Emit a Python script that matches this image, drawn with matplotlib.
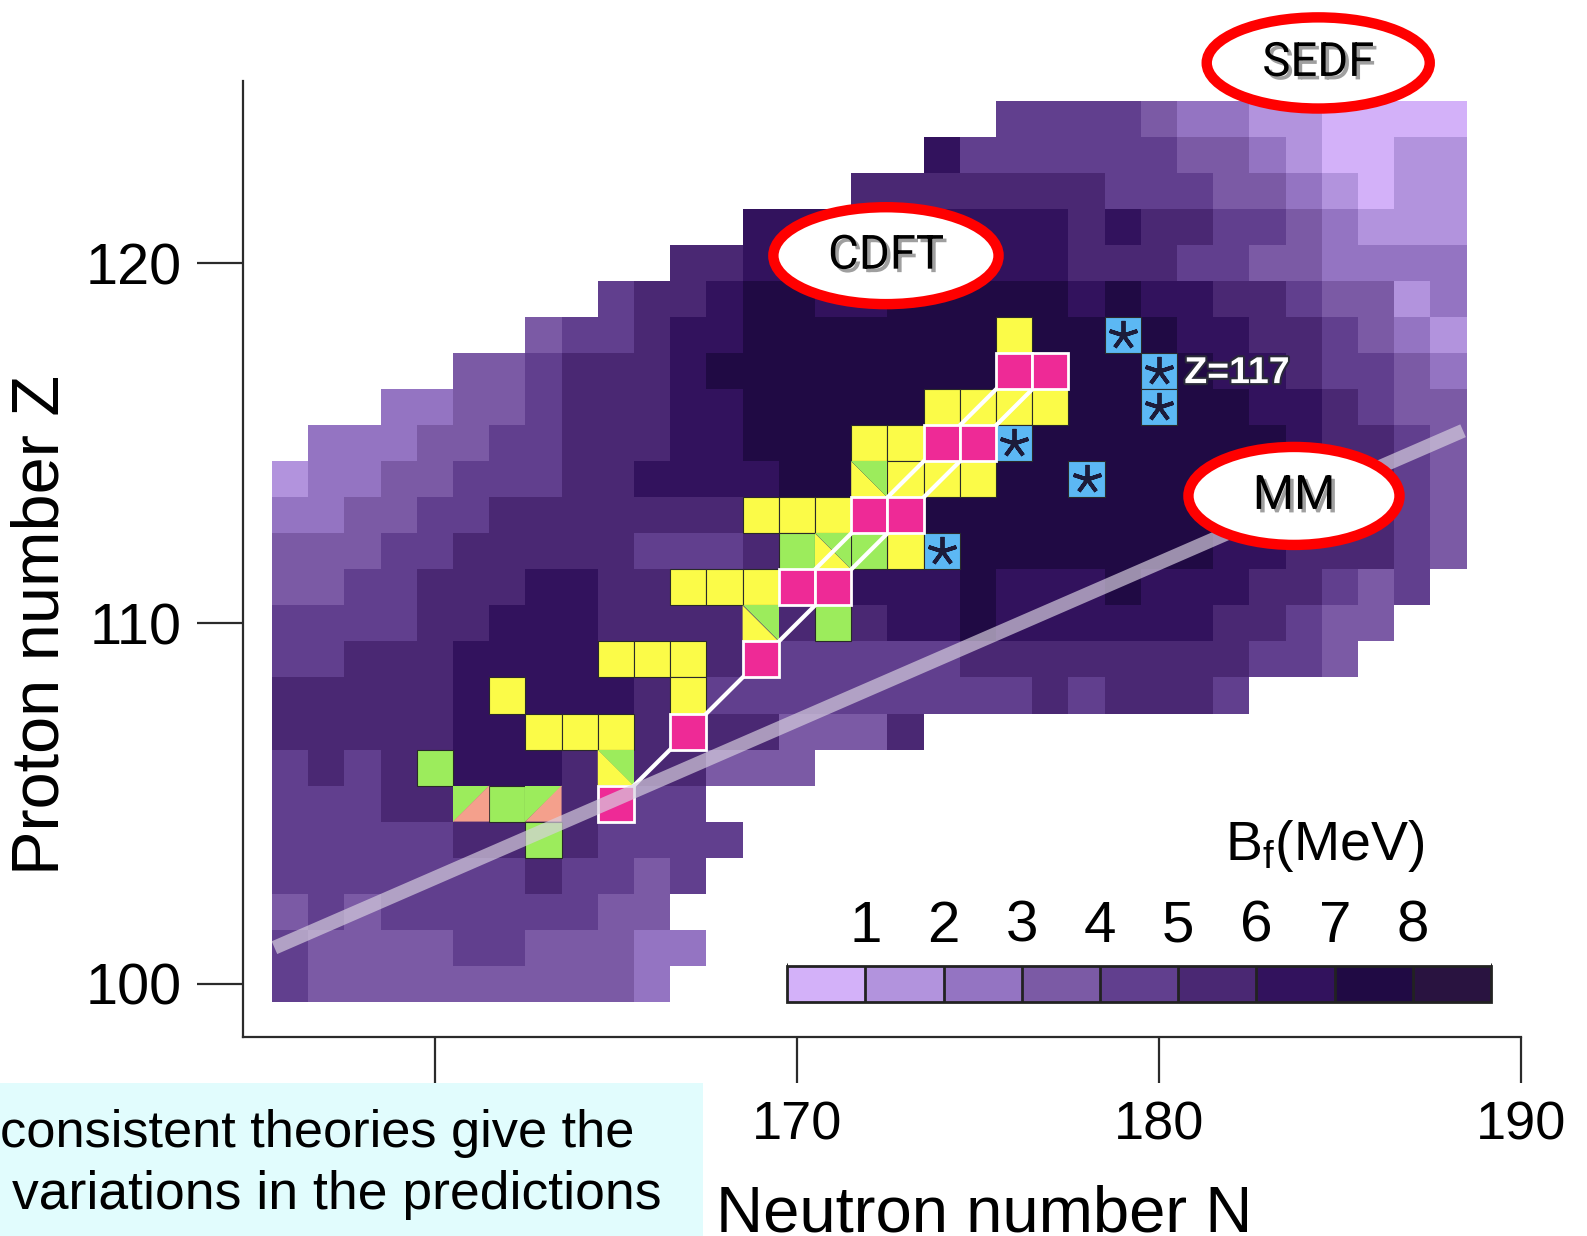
import numpy as np
import matplotlib
matplotlib.use("Agg")
import matplotlib.pyplot as plt
import matplotlib.patheffects as pe
from matplotlib.colors import ListedColormap, BoundaryNorm
from matplotlib.patches import Rectangle, Polygon, Ellipse

plt.rcParams['font.family'] = ['Liberation Sans', 'DejaVu Sans']
plt.rcParams['mathtext.fontset'] = 'custom'
plt.rcParams['mathtext.rm'] = 'Liberation Sans'
plt.rcParams['mathtext.it'] = 'Liberation Sans'

# fission barrier B_f in whole-MeV bins: digit k -> k..k+1 MeV, 8 -> above 8 MeV
# Z -> (first N of the row, one digit per neutron number from there on)
barrier_rows = {
    124: (176, "4444322110000"),
    123: (174, "644444433210011"),
    122: (172, "55555554443321011"),
    121: (169, "66666666656554432111"),
    120: (167, "5566666666655544332222"),
    119: (165, "455677667777767665543312"),
    118: (163, "34456677777777777766554321"),
    117: (161, "3345556" "77777777777777" "6654432"),
    116: (159, "2233455566" "77777777777777" "665433"),
    115: (157, "222334455566" "777777777777777" "65543"),
    114: (156, "12233444556666" "77777777777777" "66543"),
    113: (156, "2233445555555666" "7777777777" "6655543"),
    112: (156, "33344555554445555" "6" "77777777" "6655543"),
    111: (156, "33445556655555666667666766655434"),
    110: (156, "444455666" "55555555" "66" "7" "666666" "55" "4" "33"),
    109: (156, "445556666" "655" "5" "4" "44444" "55555555" "44" "3"),
    108: (156, "5555566666" "5" "4444444444" "5" "4" "555" "4"),
    107: (156, "5555566666" "5555" "333" "5"),
    106: (156, "45455666" "5555" "333"),
    105: (156, "444555555544"),
    104: (156, "4444455554444"),
    103: (156, "444444454434"),
    102: (156, "34344444433"),
    101: (156, "433334433322"),
    100: (156, "43333333332"),
}
n_min, n_max = 156, 188
z_min, z_max = 100, 124

# nuclei marked on top of the map
yellow_cells = [(176, 118), (174, 116), (175, 116), (176, 116), (177, 116),
                (172, 115), (173, 115), (173, 114), (174, 114), (175, 114),
                (169, 113), (170, 113), (171, 113), (173, 112),
                (167, 111), (168, 111), (169, 111),
                (165, 109), (166, 109), (167, 109), (162, 108), (167, 108),
                (163, 107), (164, 107), (165, 107)]
green_cells = [(170, 112), (172, 112), (171, 110), (160, 106), (162, 105), (163, 104)]
green_yellow_cells = [(172, 114), (171, 112), (169, 110), (165, 106)]
green_salmon_cells = [(161, 105), (163, 105)]
pink_cells = [(176, 117), (177, 117), (174, 115), (175, 115), (172, 113), (173, 113),
              (170, 111), (171, 111), (169, 109), (167, 107), (165, 105)]
star_cells = [(179, 118), (180, 117), (180, 116), (176, 115), (178, 114), (174, 112)]

# decay chains joining the pink nuclei
chain_a = [(165, 105), (167, 107), (169, 109), (171, 111), (173, 113), (175, 115), (177, 117)]
chain_b = [(170, 111), (172, 113), (174, 115), (176, 117)]

# grey guide line
guide_n = [155.57, 188.4]
guide_z = [101.0, 115.35]

n_ticks = [160, 170, 180, 190]
n_ticklabels = ['', '170', '180', '190']   # 160 sits under the note box
z_ticks = [100, 110, 120]
cbar_ticks = [1, 2, 3, 4, 5, 6, 7, 8]

level_colors = ['#d3b1f9', '#b293dd', '#9474c2', '#7b5aa5', '#613f8e',
                '#4a2873', '#32125d', '#200a44', '#291340']
cmap = ListedColormap(level_colors)
norm = BoundaryNorm(np.arange(0, 10), cmap.N)

B = np.full((z_max - z_min + 1, n_max - n_min + 1), np.nan)
for z, (n0, digits) in barrier_rows.items():
    B[z - z_min, n0 - n_min:n0 - n_min + len(digits)] = [int(d) for d in digits]
B = np.ma.masked_invalid(B)

n_edges = np.arange(n_min, n_max + 2) - 0.5
z_edges = np.arange(z_min, z_max + 2) - 0.5

fig = plt.figure(figsize=(15.87, 12.36), dpi=100)
ax = fig.add_axes([0.1531, 0.1610, 0.8053, 0.7735])

mesh = ax.pcolormesh(n_edges, z_edges, B, cmap=cmap, norm=norm,
                     edgecolors='none', antialiased=False, zorder=1)

YELLOW, GREEN, PINK, SALMON, BLUE = '#fbfb48', '#9cec5c', '#ee2a96', '#f4a08c', '#5cb8f4'


def square(n, z, color, zorder, edge='#2a2a2a', lw=0.8):
    ax.add_patch(Rectangle((n - 0.5, z - 0.5), 1, 1, facecolor=color,
                           edgecolor=edge, lw=lw, zorder=zorder))


for n, z in yellow_cells:
    square(n, z, YELLOW, 3)
for n, z in green_cells:
    square(n, z, GREEN, 3)
for n, z in green_yellow_cells:
    ax.add_patch(Polygon([(n - .5, z - .5), (n - .5, z + .5), (n + .5, z - .5)],
                         facecolor=YELLOW, edgecolor='none', zorder=3))
    ax.add_patch(Polygon([(n - .5, z + .5), (n + .5, z + .5), (n + .5, z - .5)],
                         facecolor=GREEN, edgecolor='none', zorder=3))
for n, z in green_salmon_cells:
    ax.add_patch(Polygon([(n - .5, z - .5), (n - .5, z + .5), (n + .5, z + .5)],
                         facecolor=GREEN, edgecolor='none', zorder=3))
    ax.add_patch(Polygon([(n - .5, z - .5), (n + .5, z + .5), (n + .5, z - .5)],
                         facecolor=SALMON, edgecolor='none', zorder=3))
for n, z in star_cells:
    square(n, z, BLUE, 3)
    ax.plot(n, z, marker=(5, 2, 0), ms=21, mew=2.8, color='#1c1c3a', zorder=3.5)

for chain in (chain_a, chain_b):
    cn, cz = zip(*chain)
    ax.plot(cn, cz, color='white', lw=3, zorder=4)

for n, z in pink_cells:
    square(n, z, PINK, 5, edge='white', lw=2.0)

ax.plot(guide_n, guide_z, color='#d8d0e0', alpha=0.68, lw=10,
        solid_capstyle='butt', zorder=6)

ax.text(180.7, 116.95, 'Z=117', color='white', fontsize=27, fontweight='bold',
        ha='left', va='center', zorder=7,
        path_effects=[pe.withStroke(linewidth=3, foreground='#2a2a3a')])

# model labels in red ellipses
shadow = [pe.withSimplePatchShadow(offset=(2.5, -2.5), shadow_rgbFace='#777777', alpha=0.7)]
for name, cx, cy, w, h in [('SEDF', 184.40, 125.56, 6.16, 2.53),
                           ('CDFT', 172.46, 120.21, 6.22, 2.69),
                           ('MM', 183.73, 113.54, 5.83, 2.72)]:
    ax.add_patch(Ellipse((cx, cy), w, h, facecolor='white', edgecolor='#ff0000',
                         lw=7.5, zorder=20, clip_on=False))
    ax.text(cx, cy, name, family=['Roboto', 'Liberation Sans'], fontsize=34,
            ha='center', va='center', zorder=21, clip_on=False, path_effects=shadow)

ax.set_xlim(154.7, 190.0)
ax.set_ylim(98.52, 125.06)
ax.spines[['top', 'right']].set_visible(False)
for side in ('left', 'bottom'):
    ax.spines[side].set_linewidth(1.6)
    ax.spines[side].set_color('#2b2b2b')
ax.set_xticks(n_ticks, n_ticklabels)
ax.set_yticks(z_ticks)
ax.tick_params(axis='both', direction='out', length=33, width=1.6, color='#2b2b2b')
ax.tick_params(axis='x', labelsize=39, pad=13)
ax.tick_params(axis='y', labelsize=41.5, pad=11)

fig.text(42 / 1587, 1 - 625 / 1236, 'Proton number Z', rotation=90,
         ha='center', va='center', fontsize=48)
fig.text(716 / 1587, 1 - 1231 / 1236, 'Neutron number N', ha='left',
         va='baseline', fontsize=47)

# colour scale
cax = fig.add_axes([0.496, 0.1893, 0.4436, 0.0291])
cb = fig.colorbar(mesh, cax=cax, orientation='horizontal', drawedges=True,
                  ticks=cbar_ticks)
cb.outline.set_linewidth(2)
cb.outline.set_edgecolor('#222222')
cb.dividers.set_color('#222222')
cb.dividers.set_linewidth(2)
cax.xaxis.set_ticks_position('top')
cax.tick_params(axis='x', length=0, pad=9, labelsize=42)
fig.text(1325 / 1587, 1 - 860 / 1236, r'B$_{\mathrm{f}}$(MeV)', ha='center',
         va='baseline', fontsize=40)

# note box in the lower left corner
fig.add_artist(Rectangle((0, 0), 703 / 1587, (1236 - 1083) / 1236,
                         transform=fig.transFigure, facecolor='#e1fcfd',
                         edgecolor='none', zorder=5))
fig.text(0 / 1587, 1 - 1147 / 1236, 'consistent theories give the',
         ha='left', va='baseline', fontsize=37.7, zorder=6)
fig.text(12 / 1587, 1 - 1209 / 1236, 'variations in the predictions',
         ha='left', va='baseline', fontsize=38.5, zorder=6)

fig.savefig('out.png', dpi=100)
